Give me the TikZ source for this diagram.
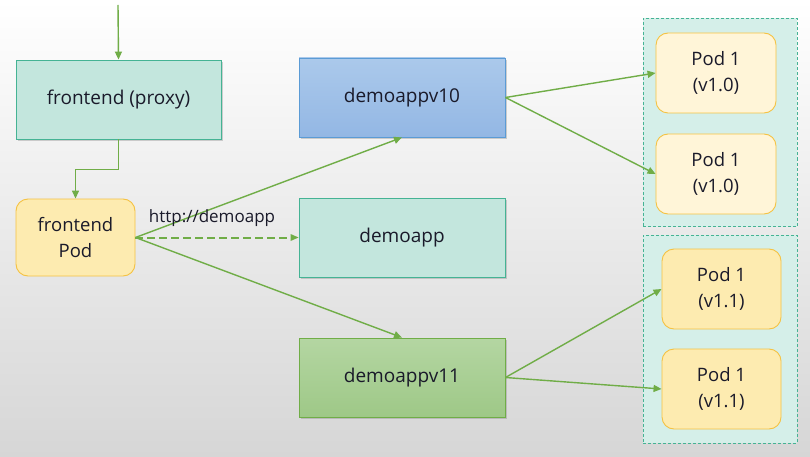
\documentclass[tikz,border=0pt]{standalone}
\usepackage{fontspec}
\setmainfont{Open Sans}
\usetikzlibrary{arrows.meta,shadows}
\definecolor{bgtop}{HTML}{FFFFFF}
\definecolor{bgbot}{HTML}{D6D6D6}
\definecolor{tealfill}{HTML}{C3E6DD}
\definecolor{tealline}{HTML}{45B394}
\definecolor{podfill}{HTML}{FDEBB0}
\definecolor{podline}{HTML}{F5C242}
\definecolor{podlight}{HTML}{FFF5D8}
\definecolor{bluetop}{HTML}{ABC9EB}
\definecolor{bluebot}{HTML}{93B7E4}
\definecolor{blueline}{HTML}{5B9BD5}
\definecolor{greentop}{HTML}{B4D6A2}
\definecolor{greenbot}{HTML}{9EC887}
\definecolor{greenline}{HTML}{70AD47}
\definecolor{arrowc}{HTML}{70AD47}
\definecolor{grpfill}{HTML}{D5EFE9}
\definecolor{txt}{HTML}{1A1A2A}
\tikzset{
  x=1pt,y=-1pt,
  box/.style={draw, line width=0.9pt, minimum width=206pt, minimum height=79pt, inner sep=0pt, text=txt, font=\fontsize{19}{22}\selectfont, drop shadow={shadow xshift=2pt,shadow yshift=-2pt,opacity=0.35}},
  tealbox/.style={box, fill=tealfill, draw=tealline},
  bluebox/.style={box, top color=bluetop, bottom color=bluebot, draw=blueline},
  greenbox/.style={box, top color=greentop, bottom color=greenbot, draw=greenline},
  podbox/.style={draw=podline, line width=0.9pt, rounded corners=12pt, minimum width=120pt, minimum height=80pt, inner sep=0pt, align=center, text=txt, font=\fontsize{18.5}{26}\selectfont},
  grp/.style={draw=tealline, dash pattern=on 3pt off 2pt, line width=0.7pt, fill=grpfill, minimum width=154pt, minimum height=208pt, inner sep=0pt},
  conn/.style={draw=arrowc, line width=1.4pt, -{Triangle[length=8pt,width=7pt]}},
  dconn/.style={draw=arrowc, line width=2pt, dash pattern=on 8pt off 4pt, -{Triangle[length=8pt,width=7pt,line width=0pt]}},
}
\begin{document}
\begin{tikzpicture}
\useasboundingbox (0,0) rectangle (810,457);
\shade[top color=bgtop, bottom color=bgbot] (0,0) rectangle (810,457);

\node[grp] (g1) at (720,122.5) {};
\node[grp] (g2) at (720,339) {};

\node[tealbox, minimum width=205pt] (proxy) at (118.5,99.5) {frontend (proxy)};
\node[podbox, fill=podfill, minimum width=119pt, minimum height=77pt] (fpod) at (75.5,237.5) {frontend\\Pod};

\node[bluebox] (v10) at (402,97.5) {demoappv10};
\node[tealbox] (demo) at (402,237.5) {demoapp};
\node[greenbox] (v11) at (402,377.5) {demoappv11};

\node[podbox, fill=podlight] (p1) at (716,73) {Pod 1\\(v1.0)};
\node[podbox, fill=podlight] (p2) at (716,174) {Pod 1\\(v1.0)};
\node[podbox, fill=podfill, minimum width=119pt] (p3) at (721.5,289) {Pod 1\\(v1.1)};
\node[podbox, fill=podfill, minimum width=119pt] (p4) at (721.5,389) {Pod 1\\(v1.1)};

\coordinate (in) at (118,5);
\draw[conn] (in) -- (proxy.north);
\draw[conn] (proxy.south) -- ++(0,30) -| (fpod.north);

\draw[conn] (fpod.east) -- (v10.south);
\draw[dconn] (fpod.east) -- (demo.west);
\node[text=txt, font=\fontsize{17}{19}\selectfont] (lbl) at (212,218) {http://demoapp};
\draw[conn] (fpod.east) -- (v11.north);

\draw[conn] (v10.east) -- (p1.west);
\draw[conn] (v10.east) -- (p2.west);
\draw[conn] (v11.east) -- (p3.west);
\draw[conn] (v11.east) -- (p4.west);
\end{tikzpicture}
\end{document}
